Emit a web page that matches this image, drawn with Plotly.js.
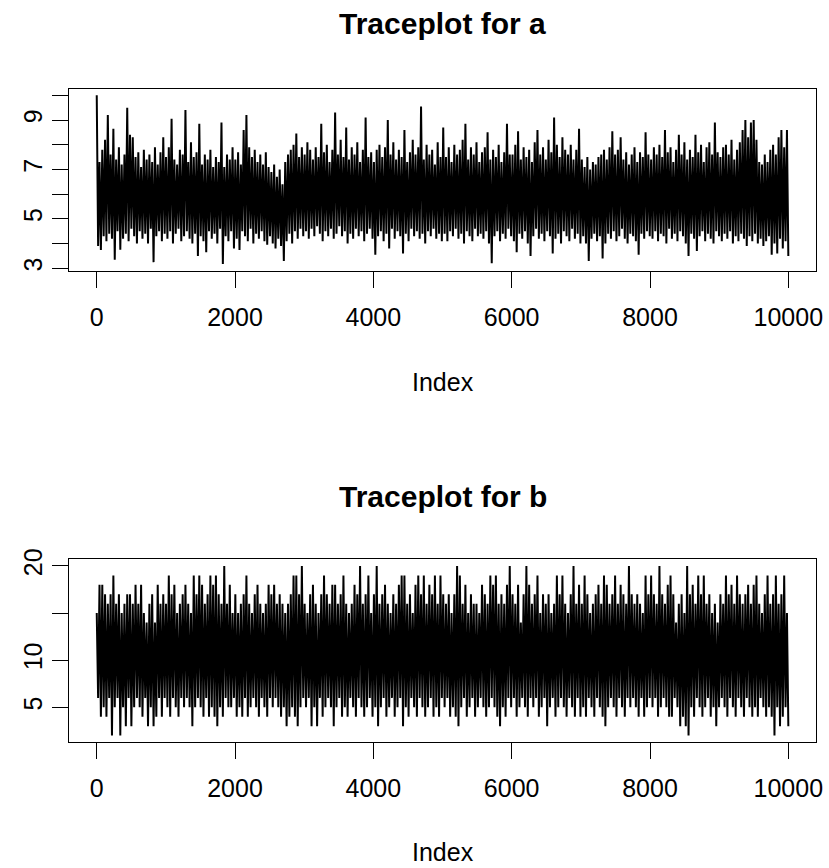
<!DOCTYPE html>
<html>
<head>
<meta charset="utf-8">
<script src="https://cdn.plot.ly/plotly-3.0.1.min.js"></script>
<style>html,body{margin:0;padding:0;background:#fff;}#chart{width:829px;height:868px;}</style>
</head>
<body>
<div id="chart"></div>
<script>
// ---- Data (local spike highs / lows, alternating through the chain) ----
const titleA = "Traceplot for a";
const titleB = "Traceplot for b";
const xLabel = "Index";
const xTicks = [0, 2000, 4000, 6000, 8000, 10000];
const aTicks = [3, 4, 5, 6, 7, 8, 9, 10];
const aTickText = ["3", "", "5", "", "7", "", "9", ""];
const bTicks = [5, 10, 15, 20];
const bTickText = ["5", "10", "", "20"];

const aHigh = [
10.0,7.3,7.8,8.2,9.2,7.6,8.65,7.4,7.9,7.2,7.6,9.5,8.4,8.3,7.5,7.7,7.1,7.8,7.4,7.6,7.3,7.9,7.2,7.7,8.3,
7.5,7.9,9.05,7.4,7.2,7.8,7.6,9.4,7.3,8.1,7.5,7.7,8.85,7.2,7.6,7.4,7.8,7.1,7.5,7.3,8.9,7.1,7.6,7.4,7.9,
7.4,7.7,7.2,8.6,9.2,7.9,7.5,7.8,7.3,7.6,7.2,7.7,7.1,6.9,7.2,6.7,7.0,6.4,7.3,7.6,7.8,8.0,8.45,7.5,7.9,
7.6,8.1,7.8,7.4,7.9,7.5,8.85,7.7,8.0,7.3,7.8,9.3,7.6,8.2,7.5,8.7,7.4,7.9,7.6,8.1,7.3,7.8,9.1,7.5,7.7,
7.3,7.8,8.0,7.5,7.9,9.0,7.6,8.1,7.4,7.8,7.5,8.6,7.3,7.7,8.2,7.6,7.9,9.55,7.4,8.0,7.6,7.8,7.2,8.1,7.5,
8.7,7.5,7.9,7.3,8.0,7.6,7.8,8.2,8.85,7.4,7.9,7.6,8.1,7.3,7.7,7.9,8.5,7.4,7.8,7.5,8.0,7.3,7.7,8.85,7.6,
7.6,8.0,8.55,7.4,7.9,7.5,7.8,7.3,8.1,8.6,7.6,7.9,7.4,8.2,7.7,9.1,8.0,7.5,8.3,7.8,7.6,8.0,7.4,7.8,8.65,
7.4,7.1,7.5,7.0,7.3,7.2,7.5,7.6,7.8,7.4,7.9,8.55,7.6,7.8,8.3,7.4,7.7,7.2,7.6,7.9,7.3,7.7,7.5,8.5,7.6,
7.4,7.9,7.6,8.0,7.5,8.6,7.7,7.9,7.3,7.8,8.4,7.6,8.1,7.4,7.8,7.5,8.4,7.7,8.0,7.3,7.9,8.1,7.6,8.9,7.7,
7.5,7.9,8.0,7.6,8.2,7.4,7.8,8.1,8.6,9.0,8.3,8.9,9.0,8.2,7.3,7.2,7.6,7.3,7.8,8.0,7.6,8.3,8.6,7.9,8.6
];
const aLow = [
3.9,3.74,4.3,4.1,4.4,4.2,3.35,4.5,3.75,4.2,4.4,4.1,4.6,4.3,4.0,4.5,4.2,4.4,4.0,4.6,3.25,4.3,4.5,4.1,4.4,
4.2,4.5,4.0,4.4,4.6,4.1,4.3,4.5,4.2,4.0,4.4,3.5,4.3,4.1,3.65,4.5,4.2,4.4,4.0,4.6,3.17,4.3,4.1,4.5,3.8,
4.2,3.74,4.5,4.3,4.1,4.6,4.0,4.4,4.2,4.5,4.1,3.95,4.3,4.0,3.8,4.2,3.9,3.3,4.1,4.4,4.0,4.5,4.2,4.6,4.3,
4.5,4.2,4.6,4.3,4.7,4.4,4.1,4.5,4.3,4.6,4.2,4.4,4.7,4.3,4.5,4.0,4.4,4.2,4.6,4.3,4.5,4.1,4.4,4.6,4.2,
3.55,4.3,4.5,4.1,4.4,3.8,4.6,4.2,4.5,4.3,3.6,4.4,4.1,4.6,4.3,4.5,4.2,4.4,4.0,4.5,4.3,4.6,4.2,4.4,4.1,
4.4,4.1,4.5,4.3,4.6,4.2,4.4,4.0,4.5,4.3,4.1,4.6,4.3,4.4,4.2,4.5,4.0,3.2,4.3,4.5,4.1,4.4,4.2,4.6,4.3,
4.1,3.65,4.4,4.2,4.5,4.0,3.5,4.3,4.6,4.2,4.4,4.1,4.5,4.3,3.6,4.2,4.4,4.0,4.5,4.3,4.1,4.6,4.2,4.4,4.0,
4.3,4.0,3.3,4.2,4.4,4.1,4.3,3.4,4.0,4.4,4.2,4.5,4.1,4.3,4.6,4.2,4.0,4.4,4.3,4.1,3.55,4.4,4.2,4.5,4.3,
4.2,4.5,4.1,4.4,4.3,4.0,4.6,4.2,4.4,4.1,4.5,4.3,4.0,3.5,4.4,4.2,3.7,4.3,4.5,4.1,4.4,4.2,4.0,4.5,4.3,
4.1,4.4,4.2,4.5,4.0,4.3,4.1,4.4,4.2,3.9,4.3,4.1,4.4,4.0,4.2,3.9,4.1,4.3,3.55,4.0,3.6,4.2,3.8,4.1,3.5
];
const bHigh = [
15,18,18,17,16,17,19,16,17,15,16,17,17,16,18,16,18,15,14,16,17,14,18,16,17,
16,19,17,18,15,16,17,18,16,15,19,17,19,18,16,17,19,18,19,17,16,20,16,18,15,
17,15,16,17,19,16,15,17,18,16,15,16,18,17,18,16,17,16,15,16,17,19,19,17,20,
16,15,17,18,16,15,17,19,17,16,18,18,16,17,19,16,15,16,18,17,20,16,17,19,15,
17,20,16,17,18,16,15,17,16,18,19,19,16,17,15,18,19,17,19,16,18,17,19,16,19,
17,16,17,15,17,20,19,16,18,15,17,16,16,15,18,17,16,19,18,19,16,17,16,18,20,
17,16,18,14,17,20,18,16,17,19,15,17,16,17,15,16,19,17,19,16,15,17,20,16,18,
16,19,17,15,16,17,18,16,19,18,16,17,19,16,18,17,16,20,17,16,17,16,15,19,17,
19,17,16,20,17,16,18,19,17,14,16,17,15,20,17,18,16,19,17,19,16,17,15,16,14,
17,16,19,17,18,16,19,17,16,17,18,16,18,19,16,15,17,19,16,17,19,16,17,19,15
];
const bLow = [
6,4,5,4,6,2,5,6,2,5,3,6,3,5,6,5,4,6,3,5,3,4,6,4,6,
5,4,6,5,4,6,5,6,5,3,5,6,5,4,6,4,5,4,3,5,4,6,5,5,6,
4,5,4,6,4,5,6,5,4,6,5,4,6,5,6,5,4,5,3,4,5,4,3,5,6,
5,6,3,5,3,6,4,5,6,5,3,5,6,4,5,4,6,5,4,6,5,4,5,6,4,
5,3,5,6,4,5,6,4,5,6,3,5,4,6,5,4,6,5,4,5,6,4,5,4,6,
5,6,4,5,4,3,5,6,4,5,6,4,5,6,5,4,5,6,5,4,3,5,4,6,5,
6,4,5,6,5,4,6,5,6,4,5,6,3,5,6,4,5,6,5,4,6,5,4,6,4,
5,4,6,5,4,6,5,4,3,5,6,5,4,6,5,4,6,5,6,5,4,6,4,5,6,
5,6,4,5,6,5,4,4,6,5,3,4,3,2,5,4,6,5,4,5,6,4,5,3,5,
6,5,4,6,5,4,6,5,4,6,5,4,5,4,6,5,4,5,4,2,5,3,4,5,3
];

function interleave(hi, lo) {
  const out = [];
  for (let i = 0; i < hi.length; i++) { out.push(hi[i], lo[i]); }
  return out;
}
const aChain = interleave(aHigh, aLow);
const bChain = interleave(bHigh, bLow);
const nIter = 10000;

const FONT = "Liberation Sans, Arial, Helvetica, sans-serif";
const H = 868;

function xAxis(anchor) {
  return {
    anchor: anchor, domain: [0, 1], range: [-400, 10400],
    tickmode: "array", tickvals: xTicks, ticktext: xTicks.map(String),
    ticks: "outside", ticklen: 16, tickwidth: 1, tickcolor: "#000",
    ticklabelstandoff: 8,
    showline: true, mirror: true, linecolor: "#000", linewidth: 1,
    showgrid: false, zeroline: false,
    tickfont: {family: FONT, size: 25, color: "#000"}
  };
}
function yAxis(anchor, domain, range, vals, text) {
  return {
    anchor: anchor, domain: domain, range: range,
    tickmode: "array", tickvals: vals, ticktext: text, tickangle: -90,
    ticks: "outside", ticklen: 16, tickwidth: 1, tickcolor: "#000",
    showline: true, mirror: true, linecolor: "#000", linewidth: 1,
    showgrid: false, zeroline: false,
    tickfont: {family: FONT, size: 25, color: "#000"}
  };
}

const traces = [
  {type: "scatter", mode: "lines", x0: 1, dx: (nIter - 1) / (aChain.length - 1), y: aChain,
   xaxis: "x", yaxis: "y", line: {color: "#000", width: 2}, hoverinfo: "skip"},
  {type: "scatter", mode: "lines", x0: 1, dx: (nIter - 1) / (bChain.length - 1), y: bChain,
   xaxis: "x2", yaxis: "y2", line: {color: "#000", width: 2}, hoverinfo: "skip"}
];

const layout = {
  width: 829, height: 868,
  margin: {l: 69, r: 13, t: 0, b: 0},
  paper_bgcolor: "#fff", plot_bgcolor: "#fff",
  showlegend: false,
  font: {family: FONT, color: "#000"},
  xaxis: xAxis("y"),
  yaxis: yAxis("x", [1 - 271 / H, 1 - 89 / H], [2.891, 10.255], aTicks, aTickText),
  xaxis2: xAxis("y2"),
  yaxis2: yAxis("x2", [1 - 741.7 / H, 1 - 559.3 / H], [1.35, 20.71], bTicks, bTickText),
  annotations: [
    {text: "<b>" + titleA + "</b>", xref: "paper", yref: "paper", x: 0.5, y: 1 - 24 / H,
     xanchor: "center", yanchor: "middle", showarrow: false, font: {family: FONT, size: 30, color: "#000"}},
    {text: "<b>" + titleB + "</b>", xref: "paper", yref: "paper", x: 0.5, y: 1 - 496 / H,
     xanchor: "center", yanchor: "middle", showarrow: false, font: {family: FONT, size: 30, color: "#000"}},
    {text: xLabel, xref: "paper", yref: "paper", x: 0.5, y: 1 - 382.2 / H,
     xanchor: "center", yanchor: "middle", showarrow: false, font: {family: FONT, size: 25, color: "#000"}},
    {text: xLabel, xref: "paper", yref: "paper", x: 0.5, y: 1 - 852.2 / H,
     xanchor: "center", yanchor: "middle", showarrow: false, font: {family: FONT, size: 25, color: "#000"}}
  ]
};

Plotly.newPlot("chart", traces, layout, {displayModeBar: false, staticPlot: true});
</script>
</body>
</html>
